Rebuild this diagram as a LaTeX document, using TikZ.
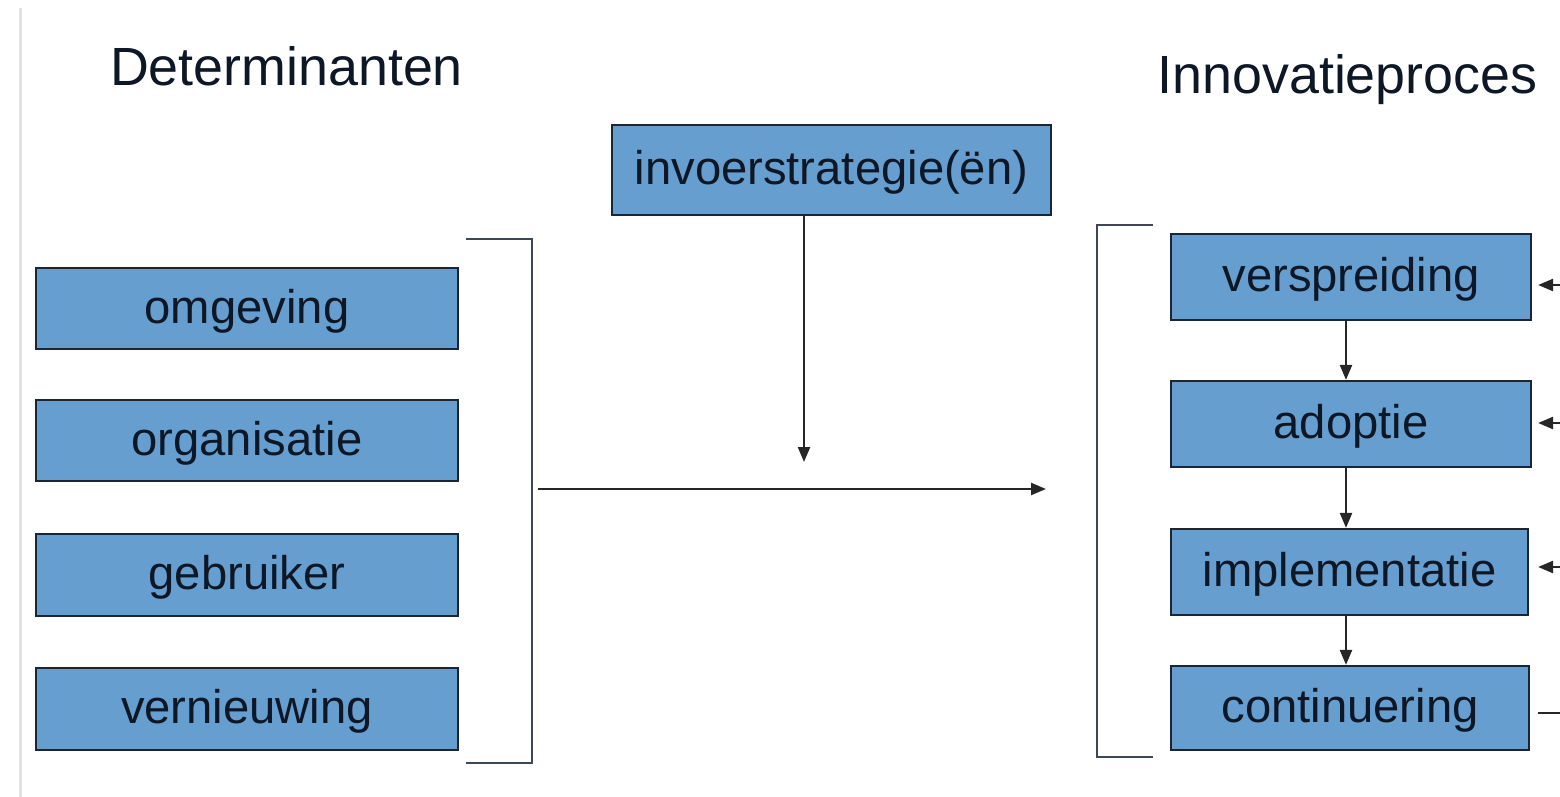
\documentclass[tikz,border=0pt]{standalone}
\usepackage{fontspec}
\setmainfont{Liberation Sans}
\usetikzlibrary{arrows.meta}
\definecolor{boxblue}{HTML}{659ECF}
\definecolor{boxline}{HTML}{1C2633}
\definecolor{inkdark}{HTML}{0E1726}
\definecolor{edgegrey}{HTML}{E2E2E2}
\begin{document}
\begin{tikzpicture}[x=0.5pt,y=-0.5pt,
  blockbox/.style={draw=boxline,line width=1.1pt,fill=boxblue,text=inkdark,
    inner sep=0pt,text height=19pt,text depth=4.5pt,
    font=\fontsize{23.6pt}{28pt}\selectfont},
  heading/.style={text=inkdark,inner sep=0pt,anchor=base,
    font=\fontsize{26.9pt}{32pt}\selectfont},
  bracketline/.style={draw=boxline!85,line width=1.2pt},
  flow/.style={draw=black!85,line width=1.2pt,-{Triangle[length=7.5pt,width=6pt]}}]
\useasboundingbox (0,0) rectangle (1560,797);
\fill[white] (0,0) rectangle (1560,797);
\draw[edgegrey,line width=1.5pt] (20,8) -- (20,797);

% headings
\node[heading] (hdet) at (286.5,86) {Determinanten};
\node[heading] (hinn) at (1347.5,94) {Innovatieproces};

% strategy box
\node[blockbox,minimum width=219.5pt,minimum height=45pt] (inv) at (831.5,170) {invoerstrategie(ën)};

% determinants
\node[blockbox,minimum width=211pt,minimum height=40.5pt] (omg) at (247,308.5) {omgeving};
\node[blockbox,minimum width=211pt,minimum height=40.5pt] (org) at (247,440.5) {organisatie};
\node[blockbox,minimum width=211pt,minimum height=41pt] (geb) at (247,575) {gebruiker};
\node[blockbox,minimum width=211pt,minimum height=41pt] (vnw) at (247,709) {vernieuwing};

% process stages
\node[blockbox,minimum width=180pt,minimum height=43pt] (vsp) at (1351,277) {verspreiding};
\node[blockbox,minimum width=180pt,minimum height=43pt] (adp) at (1351,424) {adoptie};
\node[blockbox,minimum width=178.5pt,minimum height=43pt] (imp) at (1349.5,572) {implementatie};
\node[blockbox,minimum width=179pt,minimum height=42pt] (con) at (1350,708) {continuering};

% left bracket
\coordinate (lbt) at (466,239);
\coordinate (lbtr) at (532,239);
\coordinate (lbbr) at (532,763);
\coordinate (lbb) at (466,763);
\draw[bracketline] (lbt) -- (lbtr) -- (lbbr) -- (lbb);

% right bracket
\coordinate (rbt) at (1153,225);
\coordinate (rbtl) at (1097,225);
\coordinate (rbbl) at (1097,757);
\coordinate (rbb) at (1153,757);
\draw[bracketline] (rbt) -- (rbtl) -- (rbbl) -- (rbb);

% main arrows
\coordinate (hstart) at (538,489);
\coordinate (hend) at (1046,489);
\draw[flow] (hstart) -- (hend);
\coordinate (vend) at (804,462);
\draw[flow] (inv.south -| vend) -- (vend);

% stage sequence
\draw[flow] (vsp.south -| 1346,0) -- (adp.north -| 1346,0);
\draw[flow] (adp.south -| 1346,0) -- (imp.north -| 1346,0);
\draw[flow] (imp.south -| 1346,0) -- (con.north -| 1346,0);

% feedback from the right edge
\coordinate (fb1) at (1560,285);
\coordinate (fb2) at (1560,423);
\coordinate (fb3) at (1560,567);
\coordinate (fb4) at (1560,713);
\draw[flow,shorten >=3pt] (fb1) -- (vsp.east |- fb1);
\draw[flow,shorten >=3pt] (fb2) -- (adp.east |- fb2);
\draw[flow,shorten >=4.5pt] (fb3) -- (imp.east |- fb3);
\draw[draw=black!85,line width=1.2pt,shorten >=4pt] (fb4) -- (con.east |- fb4);
\end{tikzpicture}
\end{document}
